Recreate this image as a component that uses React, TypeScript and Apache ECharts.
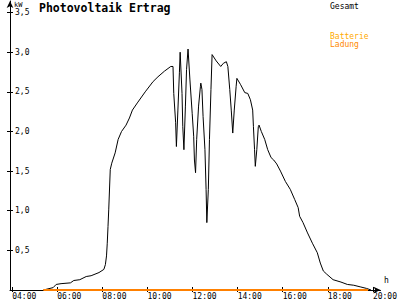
import React, { useEffect, useRef } from "react";
import * as echarts from "echarts";

const times = [
  "05:23", "05:49", "05:57", "06:10", "06:35", "06:44", "07:00", "07:17", "07:30", "07:51",
  "08:04", "08:08", "08:11", "08:13", "08:15", "08:17", "08:21", "08:25", "08:34", "08:42",
  "08:51", "09:03", "09:12", "09:20", "09:33", "09:54", "10:15", "10:28", "10:45", "11:02",
  "11:08", "11:10", "11:15", "11:17", "11:21", "11:25", "11:27", "11:32", "11:34", "11:37",
  "11:41", "11:44", "11:48", "11:53", "11:59", "12:03", "12:05", "12:08", "12:11", "12:16",
  "12:21", "12:22", "12:25", "12:28", "12:33", "12:36", "12:38", "12:42", "12:45", "12:49",
  "12:52", "13:03", "13:15", "13:22", "13:30", "13:34", "13:39", "13:43", "13:47", "13:51",
  "13:56", "13:58", "14:08", "14:19", "14:27", "14:34", "14:40", "14:42", "14:45", "14:47",
  "14:51", "14:55", "14:57", "15:03", "15:12", "15:20", "15:29", "15:36", "15:44", "15:54",
  "16:07", "16:20", "16:32", "16:41", "16:45", "16:54", "17:06", "17:19", "17:32", "17:40",
  "17:48", "17:57", "18:14", "18:35", "18:52", "19:09", "19:26", "19:43", "19:55",
];

const gesamt = [
  0.0, 0.03, 0.07, 0.08, 0.09, 0.12, 0.13, 0.17, 0.18, 0.22,
  0.26, 0.32, 0.43, 0.59, 0.8, 1.02, 1.52, 1.6, 1.73, 1.9,
  2.0, 2.08, 2.17, 2.27, 2.36, 2.5, 2.63, 2.69, 2.76, 2.82,
  2.82, 2.48, 2.11, 1.81, 2.27, 2.74, 3.0, 2.48, 2.06, 1.77,
  2.32, 2.78, 3.04, 2.65, 2.23, 1.94, 1.64, 1.48, 1.9, 2.32,
  2.57, 2.61, 2.53, 2.19, 1.77, 1.27, 0.85, 1.27, 1.9, 2.53,
  2.97, 2.89, 2.82, 2.86, 2.88, 2.82, 2.53, 2.27, 1.98, 2.27,
  2.57, 2.67, 2.59, 2.49, 2.48, 2.4, 2.27, 2.06, 1.77, 1.56,
  1.77, 2.06, 2.08, 2.0, 1.9, 1.77, 1.67, 1.64, 1.59, 1.5,
  1.37, 1.27, 1.14, 1.04, 0.93, 0.85, 0.72, 0.59, 0.47, 0.34,
  0.24, 0.2, 0.13, 0.1, 0.07, 0.06, 0.04, 0.02, 0.0,
];

const batterieTimes = ["05:23", "19:47"];
const batterieLadung = [0, 0];

const xTickHours = [4, 6, 8, 10, 12, 14, 16, 18, 20];
const yTickValues = [0.5, 1.0, 1.5, 2.0, 2.5, 3.0, 3.5];

const toHours = (t: string) => {
  const [h, m] = t.split(":").map(Number);
  return h + m / 60;
};

const MONO = "DejaVu Sans Mono";

export default function App() {
  const ref = useRef<HTMLDivElement>(null);
  useEffect(() => {
    if (!ref.current) return;
    const chart = echarts.init(ref.current, null, { renderer: "svg" });
    const xMin = 3.903;
    const xMax = 20.337;
    const yMax = 3.646;
    const fmtX = (v: number) => String(Math.round(v)).padStart(2, "0") + ":00";
    const fmtY = (v: number) => v.toFixed(1).replace(".", ",");
    chart.setOption({
      animation: false,
      backgroundColor: "#ffffff",
      title: {
        text: "Photovoltaik Ertrag",
        left: 39,
        top: 2,
        padding: 0,
        textStyle: { fontFamily: MONO, fontWeight: "bold", fontSize: 11.5, color: "#000" },
      },
      grid: { left: 10, right: 2, top: 1, bottom: 9.5 },
      xAxis: [
        {
          type: "value",
          min: xMin,
          max: xMax,
          splitLine: { show: false },
          axisLine: { show: true, lineStyle: { color: "#000", width: 1 }, symbol: ["none", "arrow"], symbolSize: [5, 7] },
          axisTick: { show: true, inside: true, length: 3, customValues: xTickHours, lineStyle: { color: "#000" } },
          axisLabel: {
            show: true,
            customValues: xTickHours,
            formatter: fmtX,
            fontFamily: MONO,
            fontSize: 8,
            color: "#000",
            margin: 2,
            align: "left",
            alignMinLabel: "left",
            alignMaxLabel: "left",
            hideOverlap: false,
          },
        },
        {
          type: "value",
          min: xMin,
          max: xMax,
          position: "bottom",
          splitLine: { show: false },
          axisLine: { show: false },
          axisTick: { show: true, inside: false, length: 2, customValues: xTickHours, lineStyle: { color: "#000" } },
          axisLabel: { show: false },
        },
      ],
      yAxis: [
        {
          type: "value",
          min: 0,
          max: yMax,
          splitLine: { show: false },
          axisLine: { show: true, lineStyle: { color: "#000", width: 1 }, symbol: ["none", "arrow"], symbolSize: [5, 7] },
          axisTick: { show: true, inside: true, length: 3, customValues: yTickValues, lineStyle: { color: "#000" } },
          axisLabel: {
            show: true,
            inside: true,
            customValues: yTickValues,
            formatter: fmtY,
            fontFamily: MONO,
            fontSize: 8,
            color: "#000",
            margin: 5,
          },
        },
        {
          type: "value",
          min: 0,
          max: yMax,
          position: "left",
          splitLine: { show: false },
          axisLine: { show: false },
          axisTick: { show: true, inside: false, length: 3, customValues: yTickValues, lineStyle: { color: "#000" } },
          axisLabel: { show: false },
        },
      ],
      series: [
        {
          name: "Batterie Ladung",
          type: "line",
          showSymbol: false,
          symbol: "none",
          data: batterieTimes.map((t, i) => [toHours(t), batterieLadung[i]]),
          lineStyle: { color: "#ff8000", width: 2 },
          z: 3,
        },
        {
          name: "Gesamt",
          type: "line",
          showSymbol: false,
          symbol: "none",
          data: times.map((t, i) => [toHours(t), gesamt[i]]),
          lineStyle: { color: "#000", width: 1 },
          z: 2,
        },
      ],
      graphic: [
        { type: "text", x: 14, y: 1, style: { text: "kW", fontFamily: MONO, fontSize: 7, fill: "#000" } },
        { type: "text", x: 384, y: 276, style: { text: "h", fontFamily: MONO, fontSize: 8, fill: "#000" } },
        { type: "text", x: 330, y: 2, style: { text: "Gesamt", fontFamily: MONO, fontSize: 8, fill: "#000" } },
        { type: "text", x: 330, y: 32, style: { text: "Batterie", fontFamily: MONO, fontSize: 8, fill: "#ffaa00" } },
        { type: "text", x: 330, y: 40, style: { text: "Ladung", fontFamily: MONO, fontSize: 8, fill: "#ff8800" } },
      ],
    });
    return () => chart.dispose();
  }, []);
  return <div ref={ref} style={{ position: "absolute", left: 0, top: 0, width: 400, height: 300 }} />;
}
